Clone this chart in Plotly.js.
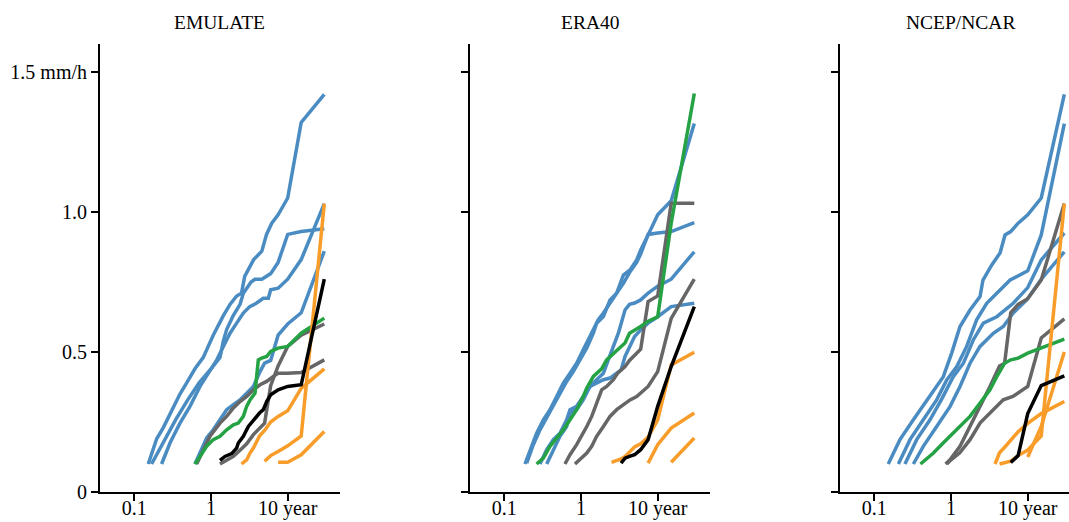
<!DOCTYPE html>
<html><head><meta charset="utf-8">
<script src="https://cdn.plot.ly/plotly-3.0.1.min.js"></script>
<style>html,body{margin:0;padding:0;background:#fff}</style>
</head><body><div id="chart" style="width:1069px;height:522px"></div>
<script>
const panelTitles = ['EMULATE', 'ERA40', 'NCEP/NCAR'];
const xTickVals = [0.1, 1, 10];
const xTickText = ['0.1', '1', '10 year'];
const yTickVals = [0, 0.5, 1.0, 1.5];
const yTickText = ['0', '0.5', '1.0', '1.5 mm/h'];

// ---- EMULATE ----
const emuBlue1X = [0.152,0.196,0.239,0.307,0.394,0.482,0.618,0.79,1.07,1.45,1.77,2.16,2.5,2.75,3.0,3.6,4.6,5.3,6.2,7.5,10,15,30];
const emuBlue1Y = [0.10,0.19,0.23,0.29,0.35,0.39,0.44,0.48,0.56,0.63,0.67,0.70,0.71,0.77,0.79,0.83,0.86,0.92,0.96,0.99,1.05,1.32,1.42];
const emuBlue2X = [0.168,0.25,0.35,0.5,0.7,1.0,1.31,1.45,1.6,1.95,2.39,2.64,3.0,3.33,3.75,4.6,6.0,7.5,10,15,30];
const emuBlue2Y = [0.10,0.19,0.26,0.33,0.39,0.44,0.48,0.54,0.58,0.63,0.67,0.71,0.73,0.75,0.76,0.76,0.78,0.82,0.92,0.93,0.94];
const emuBlue3X = [0.227,0.292,0.394,0.532,0.719,0.97,1.19,1.45,1.77,2.16,2.64,3.2,3.9,4.8,5.6,6.0,7.5,10,15,30];
const emuBlue3Y = [0.10,0.175,0.246,0.306,0.377,0.436,0.472,0.52,0.567,0.603,0.639,0.662,0.674,0.692,0.692,0.722,0.728,0.76,0.83,1.03];
const emuBlue4X = [0.618,0.719,0.878,1.07,1.31,1.6,1.96,2.39,2.92,3.57,4.36,5.0,6.0,7.5,10,15,30];
const emuBlue4Y = [0.10,0.139,0.193,0.222,0.258,0.294,0.312,0.329,0.353,0.377,0.43,0.46,0.47,0.56,0.60,0.64,0.86];
const emuGreenX = [0.618,0.719,0.878,1.07,1.31,1.6,1.96,2.27,2.64,2.92,3.23,3.75,4.14,4.58,5.32,6.0,7.5,10,15,30];
const emuGreenY = [0.10,0.127,0.163,0.187,0.199,0.222,0.24,0.246,0.27,0.306,0.329,0.353,0.472,0.478,0.484,0.502,0.514,0.52,0.567,0.621];
const emuGray1X = [0.65,0.794,0.97,1.31,1.6,1.96,2.39,2.92,3.57,4.36,5.32,6.5,7.5,10,15,30];
const emuGray1Y = [0.10,0.151,0.199,0.246,0.27,0.30,0.323,0.341,0.365,0.383,0.395,0.413,0.424,0.424,0.427,0.472];
const emuGray2X = [1.31,1.6,1.96,2.39,2.92,3.57,4.29,5,6,7.5,10,15,30];
const emuGray2Y = [0.10,0.113,0.127,0.149,0.172,0.205,0.228,0.246,0.38,0.45,0.52,0.56,0.60];
const emuBlackX = [1.31,1.52,1.86,2.16,2.27,2.64,3.07,3.57,4.29,4.81,5.32,6,7.5,10,15,30];
const emuBlackY = [0.113,0.127,0.137,0.157,0.175,0.199,0.234,0.258,0.282,0.294,0.323,0.347,0.365,0.377,0.383,0.76];
const emuOrange1X = [5,6,7.5,10,15,30];
const emuOrange1Y = [0.11,0.13,0.145,0.165,0.20,1.03];
const emuOrange2X = [2.5,2.92,3.23,3.57,4.29,5,6,7.5,10,15,30];
const emuOrange2Y = [0.10,0.115,0.139,0.157,0.20,0.22,0.25,0.27,0.29,0.37,0.44];
const emuOrange3X = [7.5,10,15,30];
const emuOrange3Y = [0.106,0.106,0.133,0.216];

// ---- ERA40 ----
const eraBlue1X = [0.186,0.216,0.264,0.323,0.394,0.482,0.588,0.719,0.878,1.07,1.31,1.52,1.68,1.96,2.39,2.92,3.57,4.36,5.32,6,7.5,10,15,30];
const eraBlue1Y = [0.10,0.151,0.21,0.258,0.294,0.341,0.389,0.424,0.46,0.508,0.555,0.591,0.615,0.639,0.674,0.71,0.775,0.793,0.829,0.864,0.918,0.99,1.04,1.316];
const eraBlue2X = [0.196,0.239,0.292,0.357,0.436,0.532,0.65,0.794,0.97,1.19,1.45,1.6,1.96,2.39,2.92,3.57,4.36,5.32,6,7.5,10,15,30];
const eraBlue2Y = [0.103,0.169,0.222,0.264,0.306,0.353,0.395,0.43,0.472,0.514,0.567,0.603,0.627,0.686,0.71,0.745,0.787,0.82,0.85,0.92,0.925,0.93,0.962];
const eraBlue3X = [0.292,0.357,0.436,0.532,0.65,0.719,0.878,1.07,1.31,1.6,1.96,2.27,2.64,3.07,3.75,4.29,5,6,7.5,10,15,30];
const eraBlue3Y = [0.10,0.151,0.187,0.21,0.258,0.294,0.306,0.341,0.377,0.401,0.424,0.472,0.52,0.567,0.65,0.67,0.675,0.686,0.71,0.735,0.76,0.858];
const eraBlue4X = [0.357,0.436,0.532,0.65,0.719,0.878,1.07,1.31,1.6,1.96,2.39,2.92,3.33,3.75,4.29,5,6,7.5,10,15,30];
const eraBlue4Y = [0.10,0.151,0.199,0.234,0.282,0.294,0.329,0.377,0.389,0.401,0.407,0.424,0.436,0.484,0.52,0.555,0.579,0.603,0.626,0.662,0.674];
const eraGreenX = [0.264,0.323,0.394,0.482,0.588,0.719,0.878,1.07,1.19,1.45,1.86,2.16,2.64,3.0,3.75,4.29,6,7.5,10,15,30];
const eraGreenY = [0.10,0.121,0.163,0.193,0.222,0.258,0.294,0.341,0.371,0.413,0.44,0.472,0.496,0.508,0.532,0.567,0.591,0.61,0.626,0.96,1.423];
const eraGray1X = [0.618,0.719,0.878,1.02,1.19,1.38,1.6,1.86,2.16,2.64,3.0,3.33,3.75,4.29,5,6,7.5,10,15,30];
const eraGray1Y = [0.10,0.133,0.169,0.199,0.234,0.27,0.318,0.365,0.377,0.401,0.424,0.436,0.448,0.47,0.49,0.51,0.68,0.70,1.031,1.031];
const eraGray2X = [0.835,1.02,1.19,1.38,1.6,1.96,2.39,2.92,3.57,4.36,5.32,6,7.5,10,15,30];
const eraGray2Y = [0.10,0.121,0.139,0.163,0.199,0.234,0.27,0.294,0.312,0.329,0.341,0.353,0.377,0.43,0.62,0.76];
const eraBlackX = [3.33,3.75,4.29,5,6,7.5,10,15,30];
const eraBlackY = [0.103,0.121,0.127,0.133,0.151,0.187,0.306,0.448,0.662];
const eraOrange1X = [2.5,2.73,3.0,3.33,3.75,4.29,5,6,7.5,10,15,30];
const eraOrange1Y = [0.106,0.11,0.113,0.118,0.127,0.141,0.161,0.172,0.196,0.258,0.454,0.499];
const eraOrange2X = [7.5,10,15,30];
const eraOrange2Y = [0.103,0.169,0.228,0.282];
const eraOrange3X = [15,30];
const eraOrange3Y = [0.106,0.193];

// ---- NCEP/NCAR ----
const ncBlue1X = [0.152,0.216,0.323,0.532,0.794,1.02,1.31,1.77,2.39,2.61,3.4,4.36,5.06,6,7.5,10,15,30];
const ncBlue1Y = [0.10,0.187,0.258,0.341,0.412,0.496,0.591,0.65,0.698,0.757,0.811,0.854,0.918,0.93,0.96,0.99,1.05,1.42];
const ncBlue2X = [0.206,0.292,0.435,0.65,0.88,1.19,1.6,2.16,2.92,3.95,4.8,5.9,10,15,30];
const ncBlue2Y = [0.10,0.187,0.258,0.329,0.40,0.448,0.52,0.615,0.674,0.71,0.733,0.757,0.79,0.918,1.316];
const ncBlue3X = [0.251,0.357,0.532,0.75,1.07,1.45,1.95,2.64,3.95,6.47,10,15,30];
const ncBlue3Y = [0.10,0.187,0.258,0.33,0.412,0.46,0.543,0.603,0.626,0.674,0.73,0.829,0.925];
const ncBlue4X = [0.323,0.435,0.65,0.97,1.31,1.77,2.39,3.56,4.8,6.47,9.7,15,30];
const ncBlue4Y = [0.10,0.163,0.234,0.305,0.377,0.46,0.52,0.567,0.591,0.639,0.686,0.76,0.858];
const ncGreenX = [0.40,0.59,0.79,1.19,1.77,2.39,3.22,3.95,5,6,7.5,10,15,30];
const ncGreenY = [0.10,0.139,0.175,0.222,0.27,0.318,0.365,0.412,0.46,0.472,0.478,0.496,0.515,0.546];
const ncGray1X = [0.85,0.97,1.31,1.77,2.39,3.22,4.29,5,6,7.5,10,15,30];
const ncGray1Y = [0.10,0.115,0.163,0.234,0.305,0.377,0.45,0.46,0.64,0.67,0.69,0.757,1.03];
const ncGray2X = [0.88,1.0,1.3,1.77,2.4,3.2,4.8,6.4,10,15,30];
const ncGray2Y = [0.10,0.115,0.14,0.187,0.247,0.282,0.329,0.341,0.377,0.55,0.618];
const ncBlackX = [6,7.5,10,15,30];
const ncBlackY = [0.105,0.13,0.28,0.38,0.415];
const ncOrange1X = [4.29,5,6,7.5,10,15,30];
const ncOrange1Y = [0.10,0.105,0.11,0.13,0.15,0.20,1.03];
const ncOrange2X = [10,15,30];
const ncOrange2Y = [0.125,0.234,0.50];
const ncOrange3X = [3.75,4.29,5,6,7.5,10,15,30];
const ncOrange3Y = [0.10,0.14,0.16,0.185,0.215,0.245,0.28,0.323];

const COLORS = {blue:'#4a8cc2', gray:'#666666', green:'#25a244', orange:'#f89c2a', black:'#000000'};

const series = [
  [1,'blue',emuBlue1X,emuBlue1Y],[1,'blue',emuBlue2X,emuBlue2Y],[1,'blue',emuBlue3X,emuBlue3Y],[1,'blue',emuBlue4X,emuBlue4Y],
  [1,'gray',emuGray1X,emuGray1Y],[1,'gray',emuGray2X,emuGray2Y],[1,'green',emuGreenX,emuGreenY],
  [1,'orange',emuOrange1X,emuOrange1Y],[1,'orange',emuOrange2X,emuOrange2Y],[1,'orange',emuOrange3X,emuOrange3Y],
  [1,'black',emuBlackX,emuBlackY],
  [2,'blue',eraBlue1X,eraBlue1Y],[2,'blue',eraBlue2X,eraBlue2Y],[2,'blue',eraBlue3X,eraBlue3Y],[2,'blue',eraBlue4X,eraBlue4Y],
  [2,'gray',eraGray1X,eraGray1Y],[2,'gray',eraGray2X,eraGray2Y],[2,'green',eraGreenX,eraGreenY],
  [2,'orange',eraOrange1X,eraOrange1Y],[2,'orange',eraOrange2X,eraOrange2Y],[2,'orange',eraOrange3X,eraOrange3Y],
  [2,'black',eraBlackX,eraBlackY],
  [3,'blue',ncBlue1X,ncBlue1Y],[3,'blue',ncBlue2X,ncBlue2Y],[3,'blue',ncBlue3X,ncBlue3Y],[3,'blue',ncBlue4X,ncBlue4Y],
  [3,'gray',ncGray1X,ncGray1Y],[3,'gray',ncGray2X,ncGray2Y],[3,'green',ncGreenX,ncGreenY],
  [3,'orange',ncOrange1X,ncOrange1Y],[3,'orange',ncOrange2X,ncOrange2Y],[3,'orange',ncOrange3X,ncOrange3Y],
  [3,'black',ncBlackX,ncBlackY]
];

const traces = series.map(([p, c, xs, ys]) => ({
  type:'scatter', mode:'lines', x:xs, y:ys,
  xaxis: p===1 ? 'x' : 'x'+p, yaxis: p===1 ? 'y' : 'y'+p,
  line:{color:COLORS[c], width:3.5}, hoverinfo:'skip', showlegend:false
}));

const W = 1069;
const FONT = {family:'Liberation Serif, Times New Roman, serif', size:20, color:'#000'};
const TITLEFONT = {family:'Liberation Serif, Times New Roman, serif', size:19.5, color:'#000'};
const domains = [[100/W, 340/W],[470/W, 710/W],[840/W, 1]];
const ranges = [[-1.447, 1.682],[-1.447, 1.682],[-1.447, 1.538]];

const layout = {
  width:1069, height:522,
  margin:{l:0, r:0, t:44, b:30, pad:0},
  paper_bgcolor:'#fff', plot_bgcolor:'#fff',
  font:FONT, showlegend:false, annotations:[]
};
const titleCenters = [219/W, 590/W, 960/W];
for (let i=0;i<3;i++){
  const k = i===0 ? '' : String(i+1);
  layout['xaxis'+k] = {
    type:'log', domain:domains[i], range:ranges[i], anchor: i===0?'y':'y'+(i+1),
    showline:true, linecolor:'#000', linewidth:2, mirror:false,
    ticks:'outside', ticklen:7, tickwidth:2, tickcolor:'#000',
    tickvals:xTickVals, ticktext:xTickText, tickfont:FONT, ticklabelstandoff:-10,
    showgrid:false, zeroline:false, automargin:false, fixedrange:true
  };
  layout['yaxis'+k] = {
    domain:[0,1], range:[0,1.6], anchor: i===0?'x':'x'+(i+1),
    showline:true, linecolor:'#000', linewidth:2,
    ticks:'outside', ticklen:7, tickwidth:2, tickcolor:'#000',
    tickvals:yTickVals, ticktext:yTickText, tickfont:FONT,
    showticklabels: i===0,
    showgrid:false, zeroline:false, automargin:false, fixedrange:true
  };
  layout.annotations.push({
    text:panelTitles[i], xref:'paper', yref:'paper', x:titleCenters[i], y:1+22/448,
    xanchor:'center', yanchor:'middle', showarrow:false, font:TITLEFONT
  });
}

Plotly.newPlot('chart', traces, layout, {staticPlot:true, displayModeBar:false});
</script>
</body></html>
